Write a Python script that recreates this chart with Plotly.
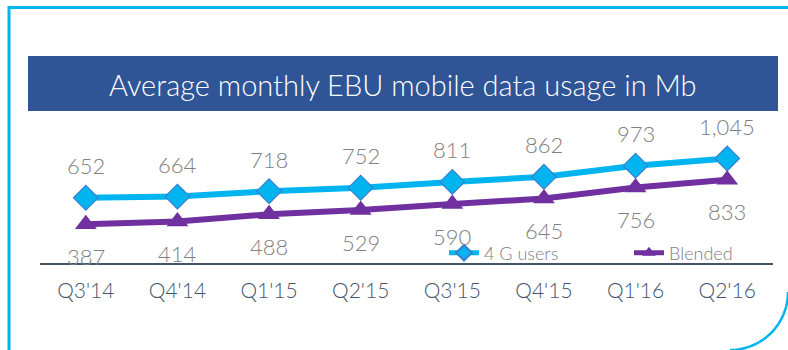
import math
import plotly.graph_objects as go

# Quarterly average monthly mobile data usage (Mb)
quarters = ["Q3'14", "Q4'14", "Q1'15", "Q2'15", "Q3'15", "Q4'15", "Q1'16", "Q2'16"]
users_4g = [652, 664, 718, 752, 811, 862, 973, 1045]
blended = [387, 414, 488, 529, 590, 645, 756, 833]

title_text = "Average monthly EBU mobile data usage in Mb"

CYAN = "#00B5EF"
PURPLE = "#7030A0"
BANNER = "#2F5597"
LABEL_GREY = "#808080"
SLATE = "#44546A"
FONT = "Lato"

W, H = 788, 350
M_L, M_R, M_T, M_B = 40, 15, 120, 87
PW, PH = W - M_L - M_R, H - M_T - M_B


def px(x):
    return (x - M_L) / PW


def py(y):
    return (H - M_B - y) / PH


fig = go.Figure()

fig.add_trace(go.Scatter(
    x=quarters, y=users_4g, name="4 G users", mode="lines+markers",
    line=dict(color=CYAN, width=6),
    marker=dict(symbol="diamond", size=19, color=CYAN,
                line=dict(color="#3B7DD0", width=1.2)),
    cliponaxis=False, legend="legend",
))
fig.add_trace(go.Scatter(
    x=quarters, y=blended, name="Blended", mode="lines+markers",
    line=dict(color=PURPLE, width=6),
    marker=dict(symbol="triangle-up", size=19, color=PURPLE),
    cliponaxis=False, legend="legend2",
))

label_font = dict(family=FONT, size=22, color=LABEL_GREY, weight=300)
annotations = []
for q, v in zip(quarters, users_4g):
    annotations.append(dict(x=q, y=v, xref="x", yref="y", text=f"{v:,}",
                            showarrow=False, yshift=32, font=label_font))
for q, v in zip(quarters, blended):
    annotations.append(dict(x=q, y=v, xref="x", yref="y", text=f"{v:,}",
                            showarrow=False, yshift=-32, font=label_font))

# title inside the banner
annotations.append(dict(x=px(403), y=py(84), xref="paper", yref="paper",
                        text=title_text, showarrow=False,
                        xanchor="center", yanchor="middle",
                        font=dict(family=FONT, size=29, color="white", weight=300)))

shapes = [
    # banner
    dict(type="rect", xref="paper", yref="paper",
         x0=px(28), x1=px(778), y0=py(111), y1=py(56),
         fillcolor=BANNER, line=dict(width=0), layer="below"),
    # frame: top and left edges
    dict(type="line", xref="paper", yref="paper",
         x0=px(8), x1=px(792), y0=py(7.5), y1=py(7.5),
         line=dict(color=CYAN, width=3)),
    dict(type="line", xref="paper", yref="paper",
         x0=px(9), x1=px(9), y0=py(6), y1=py(355),
         line=dict(color=CYAN, width=3)),
]

# rounded bottom-right corner of the frame
cx, cy, r = 730, 292, 58
pts = []
for i in range(0, 31):
    a = math.radians(90 * i / 30)
    pts.append((px(cx + r * math.cos(a)), py(cy + r * math.sin(a))))
path = "M " + " L ".join(f"{a:.5f},{b:.5f}" for a, b in pts)
shapes.append(dict(type="path", xref="paper", yref="paper", path=path,
                   line=dict(color=CYAN, width=2.5)))

legend_common = dict(orientation="h", xanchor="left", yanchor="middle",
                     bgcolor="rgba(0,0,0,0)",
                     font=dict(family=FONT, size=18, color=LABEL_GREY, weight=300),
                     itemsizing="constant")

fig.update_layout(
    width=W, height=H,
    margin=dict(l=M_L, r=M_R, t=M_T, b=M_B, autoexpand=False),
    paper_bgcolor="white", plot_bgcolor="white",
    font=dict(family=FONT),
    showlegend=True,
    legend=dict(x=px(444), y=py(253), **legend_common),
    legend2=dict(x=px(629), y=py(253), **legend_common),
    xaxis=dict(type="category", showgrid=False, zeroline=False,
               showline=True, linecolor=SLATE, linewidth=2,
               ticks="", ticklabelstandoff=8,
               tickfont=dict(family=FONT, size=21, color=SLATE, weight=300),
               range=[-0.5, 7.5]),
    yaxis=dict(visible=False, range=[0, 1430], showgrid=False, zeroline=False),
    annotations=annotations,
    shapes=shapes,
)

fig.write_html("out.html")
